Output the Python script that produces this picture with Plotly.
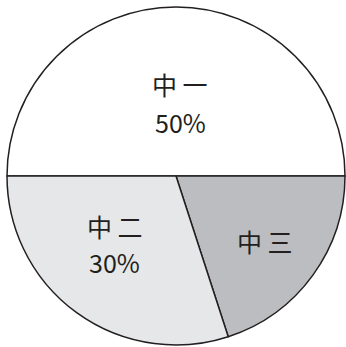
import plotly.graph_objects as go

labels = ["中一", "中三", "中二"]
values = [50, 20, 30]
show_pct = [True, False, True]
colors = ["#ffffff", "#bcbdc0", "#e6e7e8"]

W, H = 346, 347
# label centres in page pixels (name line, percent line)
label_pos = {"中一": (180, 84, 122), "中三": (265, 241, None), "中二": (115, 226, 262)}

fig = go.Figure(go.Pie(
    labels=labels,
    values=values,
    textinfo="none",
    sort=False,
    direction="clockwise",
    rotation=270,
    marker=dict(colors=colors, line=dict(color="#231f20", width=1.5)),
    domain=dict(x=[7 / W, 345 / W], y=[1 - 345 / H, 1 - 7 / H]),
    showlegend=False,
    hoverinfo="label+percent",
))

font = dict(family="Noto Sans CJK SC", size=25, color="#231f20")
for lab, val, pct in zip(labels, values, show_pct):
    x, y1, y2 = label_pos[lab]
    fig.add_annotation(x=x / W, y=1 - y1 / H, xref="paper", yref="paper",
                       xanchor="center", yanchor="middle",
                       text=" ".join(lab), showarrow=False, font=font)
    if pct:
        fig.add_annotation(x=x / W, y=1 - y2 / H, xref="paper", yref="paper",
                           xanchor="center", yanchor="middle",
                           text=f"{val}%", showarrow=False, font=font)

fig.update_layout(
    width=W, height=H,
    margin=dict(l=0, r=0, t=0, b=0),
    paper_bgcolor="white",
)

fig.write_html("out.html", config={"displayModeBar": False},
               post_script="document.body.style.margin='0';")
